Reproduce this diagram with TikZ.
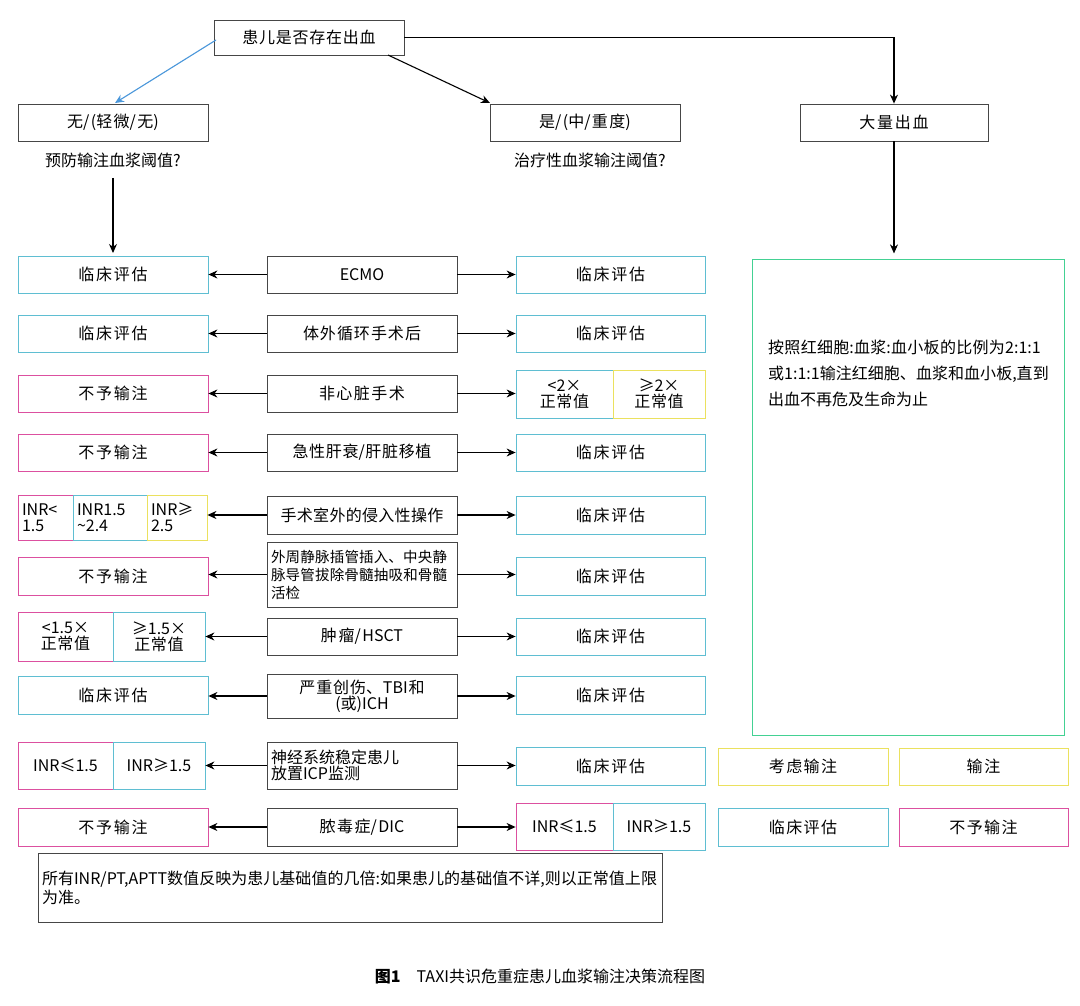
\documentclass[tikz,border=0pt]{standalone}
\usepackage{fontspec}
\setmainfont{Liberation Serif}
\newfontfamily\cjk{Noto Sans CJK SC}
\XeTeXlinebreaklocale "zh"
\XeTeXlinebreakskip=0pt plus 1pt
\usetikzlibrary{arrows.meta,calc}
\definecolor{cy}{RGB}{95,190,210}
\definecolor{pk}{RGB}{220,80,160}
\definecolor{yl}{RGB}{235,225,95}
\definecolor{gr}{RGB}{70,70,70}
\newcommand{\bx}[7]{%
 \pgfmathsetmacro\bW{(#5)-(#3)}\pgfmathsetmacro\bH{(#6)-(#4)}%
 \pgfmathsetmacro\bT{(#5)-(#3)-8}\pgfmathsetmacro\bX{((#3)+(#5))/2}\pgfmathsetmacro\bY{((#4)+(#6))/2}%
 \node[minimum width=\bW pt,minimum height=\bH pt,text width=\bT pt,inner sep=0pt,align=center,#2] (#1) at (\bX,\bY) {#7};}
\begin{document}
\begin{tikzpicture}[x=1pt,y=-1pt,font=\cjk\fontsize{16}{19}\selectfont,
  gb/.style={draw=gr,line width=0.8pt},
  cb/.style={draw=cy,line width=0.8pt},
  pb/.style={draw=pk,line width=0.8pt},
  yb/.style={draw=yl,line width=0.8pt},
  ar/.style={-{Stealth[length=9pt,width=8pt]},line width=1.1pt,black}]
\useasboundingbox[fill=white] (0,0) rectangle (1080,1006);
\bx{top}{gb}{214}{20}{404}{55}{患儿是否存在出血}
\bx{no}{gb}{18}{104}{208}{141}{无/(轻微/无)}
\bx{yes}{gb}{490}{104}{680}{141}{是/(中/重度)}
\bx{big}{gb}{800}{104}{988}{141}{大量出血}
\node (q1) at (113,160) {预防输注血浆阈值?};
\node (q2) at (590,160) {治疗性血浆输注阈值?};
\draw[ar,draw=cy!80!blue,fill=cy!80!blue] (216,40) -- (115,103);
\draw[ar] (388,55) -- (490,103);
\draw[ar] (top.east) -| (big.north);
\coordinate (c1) at (113,253);
\draw[ar] (113,178) -- (c1);
\draw[ar] (big.south) -- ++(0,112) coordinate (c2);
% row 1
\bx{m1}{gb}{267}{256}{457}{293}{ECMO}
\bx{l1}{cb}{18}{256}{208}{293}{临床评估}
\bx{r1}{cb}{516}{256}{705}{293}{临床评估}
% row 2
\bx{m2}{gb}{267}{315}{457}{352}{体外循环手术后}
\bx{l2}{cb}{18}{315}{208}{352}{临床评估}
\bx{r2}{cb}{516}{315}{705}{352}{临床评估}
% row 3
\bx{m3}{gb}{267}{375}{457}{412}{非心脏手术}
\bx{l3}{pb}{18}{375}{208}{412}{不予输注}
\bx{r3a}{cb}{516}{370}{613}{418}{<2×\\[-3pt]正常值}
\bx{r3b}{yb}{613}{370}{705}{418}{≥2×\\[-3pt]正常值}
% row 4
\bx{m4}{gb}{267}{434}{457}{471}{急性肝衰/肝脏移植}
\bx{l4}{pb}{18}{434}{208}{471}{不予输注}
\bx{r4}{cb}{516}{434}{705}{471}{临床评估}
% row 5
\bx{m5}{gb}{267}{496}{457}{534}{手术室外的侵入性操作}
\bx{l5a}{pb,align=left}{18}{495}{73}{540}{INR<\\[-3pt]1.5}
\bx{l5b}{cb,align=left}{73}{495}{147}{540}{INR1.5\\[-3pt]\textasciitilde2.4}
\bx{l5c}{yb,align=left}{147}{495}{207}{540}{INR≥\\[-3pt]2.5}
\bx{r5}{cb}{516}{496}{705}{534}{临床评估}
% row 6
\bx{m6}{gb,align=left,font=\cjk\fontsize{14.5}{18}\selectfont}{267}{542}{457}{607}{外周静脉插管插入、中央静脉导管拔除骨髓抽吸和骨髓活检}
\bx{l6}{pb}{18}{557}{208}{595}{不予输注}
\bx{r6}{cb}{516}{557}{705}{595}{临床评估}
% row 7
\bx{m7}{gb}{267}{618}{457}{655}{肿瘤/HSCT}
\bx{l7a}{pb}{18}{612}{113}{661}{<1.5×\\[-3pt]正常值}
\bx{l7b}{cb}{113}{612}{205}{661}{≥1.5×\\[-3pt]正常值}
\bx{r7}{cb}{516}{618}{705}{655}{临床评估}
% row 8
\bx{m8}{gb}{267}{674}{457}{718}{严重创伤、TBI和\\[-3pt](或)ICH}
\bx{l8}{cb}{18}{676}{208}{714}{临床评估}
\bx{r8}{cb}{516}{676}{705}{714}{临床评估}
% row 9
\bx{m9}{gb,align=left}{267}{742}{457}{789}{神经系统稳定患儿\\[-3pt]放置ICP监测}
\bx{l9a}{pb}{18}{742}{113}{789}{INR≤1.5}
\bx{l9b}{cb}{113}{742}{205}{789}{INR≥1.5}
\bx{r9}{cb}{516}{747}{705}{785}{临床评估}
% row 10
\bx{m10}{gb}{267}{808}{457}{846}{脓毒症/DIC}
\bx{l10}{pb}{18}{808}{208}{846}{不予输注}
\bx{r10a}{pb}{516}{803}{613}{850}{INR≤1.5}
\bx{r10b}{cb}{613}{803}{705}{850}{INR≥1.5}
% arrows rows
\foreach \m/\l/\r in {m1/l1/r1,m2/l2/r2,m3/l3/r3a,m4/l4/r4,m5/l5c/r5,m6/l6/r6,m7/l7b/r7,m8/l8/r8,m9/l9b/r9,m10/l10/r10a}{
  \draw[ar] (\m.west) -- (\m.west -| \l.east);
  \draw[ar] (\m.east) -- (\m.east -| \r.west);
}
% big box
\bx{bigbox}{draw=cy!70!green,line width=0.8pt}{752}{259}{1064}{735}{}
\node[text width=282pt,align=left,anchor=north west,inner sep=0pt,font=\cjk\fontsize{16}{26}\selectfont] (bt) at (768,340) {按照红细胞:血浆:血小板的比例为2:1:1或1:1:1输注红细胞、血浆和血小板,直到出血不再危及生命为止};
\bx{k1}{yb}{718}{748}{888}{785}{考虑输注}
\bx{k2}{yb}{899}{748}{1068}{785}{输注}
\bx{k3}{cb}{718}{808}{888}{846}{临床评估}
\bx{k4}{pb}{899}{808}{1068}{846}{不予输注}
% note
\bx{note}{gb,align=left}{38}{853}{662}{922}{所有INR/PT,APTT数值反映为患儿基础值的几倍:如果患儿的基础值不详,则以正常值上限为准。}
\node (cap) at (540,977) {\textbf{图1}\quad TAXI共识危重症患儿血浆输注决策流程图};
\end{tikzpicture}
\end{document}
